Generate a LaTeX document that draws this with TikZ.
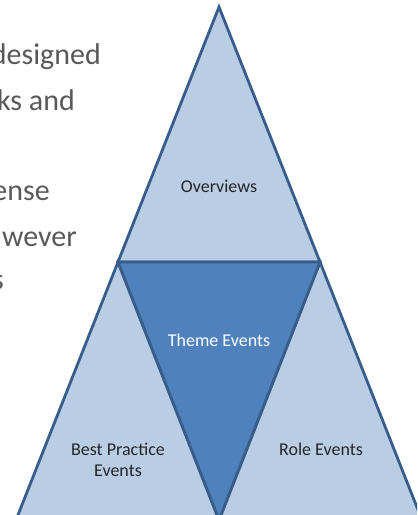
\documentclass[tikz,border=0pt]{standalone}
\usepackage{fontspec}
\setmainfont{Carlito}
\definecolor{lightblue}{HTML}{B9CDE5}
\definecolor{darkblue}{HTML}{4F81BD}
\definecolor{edgeblue}{HTML}{385D8A}
\definecolor{bodygray}{HTML}{595959}
\tikzset{
  part/.style={draw=edgeblue,line width=2.8bp,line join=miter},
  lbl/.style={font=\fontsize{18bp}{21bp}\selectfont,text=black!85,align=center,inner sep=0pt},
  body/.style={font=\fontsize{30bp}{36bp}\selectfont,text=bodygray,anchor=base east,inner sep=0pt}
}
\begin{document}
\begin{tikzpicture}[x=1bp,y=-1bp]
        \useasboundingbox (0,0) rectangle (417,515);
        \clip (0,0) rectangle (417,515);
        % corners of the pyramid
        \coordinate (top) at (219,7);
        \coordinate (ml) at (118,262);
        \coordinate (mr) at (320,262);
        \coordinate (bl) at (16,520);
        \coordinate (bc) at (219,520);
        \coordinate (br) at (422,520);
        % text cut off on the left
        \node[body] (t1) at (101,65) {designed};
        \node[body] (t2) at (75,111) {ks and};
        \node[body] (t3) at (50,201) {ense};
        \node[body] (t4) at (77,246) {wever};
        \node[body] (t5) at (4,289) {s};
        % the four triangles
        \fill[lightblue] (top)--(bl)--(br)--cycle;
        \draw[part] (top)--(ml)--(mr)--cycle;
        \draw[part] (ml)--(bl)--(bc)--cycle;
        \draw[part] (mr)--(bc)--(br)--cycle;
        \draw[part,fill=darkblue] (ml)--(mr)--(bc)--cycle;
        % labels
        \node[lbl] (ov) at (219,186) {Overviews};
        \node[lbl,text=white] (th) at (219,340) {Theme Events};
        \node[lbl] (bp) at (118,460) {Best Practice\\Events};
        \node[lbl] (ro) at (321,449) {Role Events};
    \end{tikzpicture}
\end{document}
